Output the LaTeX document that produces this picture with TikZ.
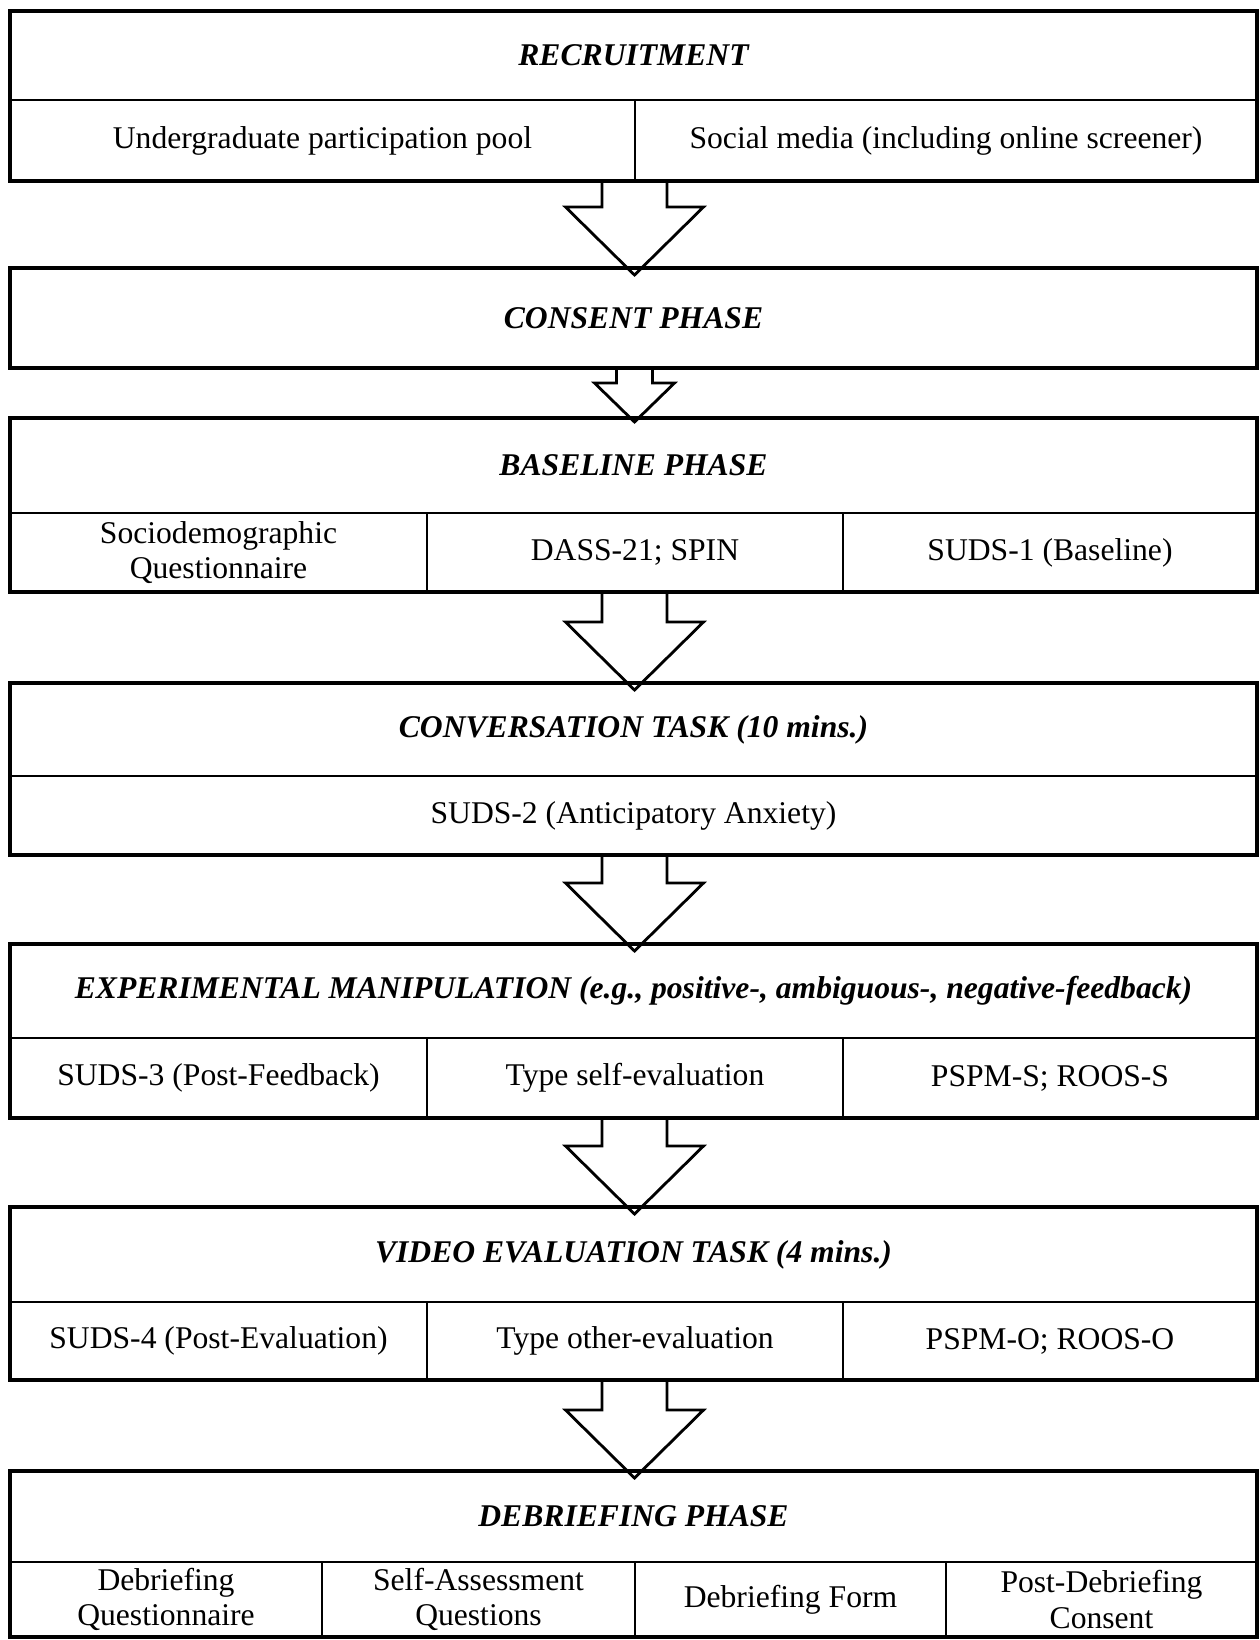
\documentclass[tikz,border=0pt]{standalone}
\usepackage{fontspec}
\setmainfont{Liberation Serif}
\usetikzlibrary{calc}
\tikzset{
  phase/.style={line width=2.2pt},
  cell/.style={line width=1.1pt},
  bigarrow/.style={line width=1.6pt,line join=miter},
  title/.style={font=\fontsize{18}{20}\selectfont\bfseries\itshape},
  item/.style={font=\fontsize{18}{20}\selectfont,align=center},
}
\newcommand{\phasearrow}[5]{%
  \draw[bigarrow] ($(#1)+(-#3,0)$) |- ($(#2)+(-#4,-#5)$) -- (#2)
    -- ($(#2)+(#4,-#5)$) -| ($(#1)+(#3,0)$);}

\begin{document}
\begin{tikzpicture}[x=0.02cm,y=-0.02cm]
\useasboundingbox (0,0) rectangle (1259,1640);
\foreach \y in {100,513,776,1038,1302,1562}
  \draw[cell] (10,\y) -- (1257,\y);
\draw[cell] (635,100) -- (635,181);
\foreach \t/\b in {513/592,1038/1118,1302/1380}
  \draw[cell] (427,\t) -- (427,\b) (843,\t) -- (843,\b);
\draw[cell] (322,1562) -- (322,1637) (635,1562) -- (635,1637) (946,1562) -- (946,1637);
\foreach \t/\b in {11/181,268/368,418/592,683/855,944/1118,1207/1380,1471/1637}
  \draw[phase] (10,\t) rectangle (1257,\b);

\node[title] (recruit) at (633.5,55.5) {RECRUITMENT};
\node[item] (pool) at (322.5,140.5) {Undergraduate participation pool};
\node[item] (social) at (946,140.5) {Social media (including online screener)};
\node[title] (consent) at (633.5,318) {CONSENT PHASE};
\node[title] (baseline) at (633.5,465.5) {BASELINE PHASE};
\node[item] (socio) at (218.5,552.5) {Sociodemographic\\Questionnaire};
\node[item] (dass) at (635,552.5) {DASS-21; SPIN};
\node[item] (suds1) at (1050,552.5) {SUDS-1 (Baseline)};
\node[title] (convo) at (633.5,729.5) {CONVERSATION TASK (10 mins.)};
\node[item] (suds2) at (633.5,815.5) {SUDS-2 (Anticipatory Anxiety)};
\node[title] (manip) at (633.5,991) {EXPERIMENTAL MANIPULATION (e.g., positive-, ambiguous-, negative-feedback)};
\node[item] (suds3) at (218.5,1078) {SUDS-3 (Post-Feedback)};
\node[item] (selfeval) at (635,1078) {Type self-evaluation};
\node[item] (pspms) at (1050,1078) {PSPM-S; ROOS-S};
\node[title] (video) at (633.5,1254.5) {VIDEO EVALUATION TASK (4 mins.)};
\node[item] (suds4) at (218.5,1341) {SUDS-4 (Post-Evaluation)};
\node[item] (othereval) at (635,1341) {Type other-evaluation};
\node[item] (pspmo) at (1050,1341) {PSPM-O; ROOS-O};
\node[title] (debrief) at (633.5,1516.5) {DEBRIEFING PHASE};
\node[item] (dquest) at (166,1599.5) {Debriefing\\Questionnaire};
\node[item] (selfq) at (478.5,1599.5) {Self-Assessment\\Questions};
\node[item] (dform) at (790.5,1599.5) {Debriefing Form};
\node[item] (pdc) at (1101.5,1599.5) {Post-Debriefing\\Consent};

\coordinate (recruit-s) at (634.5,181);
\coordinate (consent-n) at (634.5,275);
\coordinate (consent-s) at (634.5,368);
\coordinate (baseline-n) at (634.5,422);
\coordinate (baseline-s) at (634.5,592);
\coordinate (convo-n) at (634.5,690);
\coordinate (convo-s) at (634.5,855);
\coordinate (manip-n) at (634.5,951);
\coordinate (manip-s) at (634.5,1118);
\coordinate (video-n) at (634.5,1214);
\coordinate (video-s) at (634.5,1380);
\coordinate (debrief-n) at (634.5,1478);
\phasearrow{recruit-s}{consent-n}{32.5}{69}{68}
\phasearrow{consent-s}{baseline-n}{18}{40}{39}
\phasearrow{baseline-s}{convo-n}{32.5}{69}{68}
\phasearrow{convo-s}{manip-n}{32.5}{69}{68}
\phasearrow{manip-s}{video-n}{32.5}{69}{68}
\phasearrow{video-s}{debrief-n}{32.5}{69}{68}
\end{tikzpicture}
\end{document}
